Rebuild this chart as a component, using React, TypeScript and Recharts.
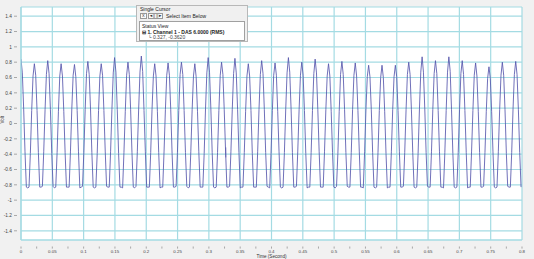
import React from "react";
import { LineChart, Line, XAxis, YAxis, CartesianGrid, ReferenceLine } from "recharts";

// Sampled waveform (Volt), one row per cycle, constant sample interval
const TIME_STEP = 0.002135;
const VOLTAGE: number[] = [
  0.84, 0.66, 0.19, -0.37, -0.83, -0.84, -0.83, -0.39, 0.17, 0.62,
  0.78, 0.63, 0.17, -0.38, -0.83, -0.83, -0.82, -0.37, 0.18, 0.64,
  0.82, 0.65, 0.18, -0.39, -0.82, -0.84, -0.83, -0.38, 0.16, 0.62,
  0.78, 0.62, 0.16, -0.38, -0.83, -0.83, -0.83, -0.36, 0.19, 0.63,
  0.77, 0.61, 0.17, -0.37, -0.84, -0.83, -0.82, -0.38, 0.18, 0.65,
  0.81, 0.64, 0.19, -0.38, -0.83, -0.84, -0.83, -0.39, 0.17, 0.62,
  0.78, 0.63, 0.17, -0.36, -0.82, -0.83, -0.83, -0.37, 0.18, 0.66,
  0.86, 0.67, 0.18, -0.39, -0.83, -0.83, -0.84, -0.38, 0.16, 0.63,
  0.80, 0.64, 0.18, -0.38, -0.83, -0.84, -0.82, -0.37, 0.19, 0.67,
  0.88, 0.68, 0.17, -0.37, -0.83, -0.83, -0.83, -0.38, 0.18, 0.62,
  0.78, 0.62, 0.16, -0.38, -0.84, -0.83, -0.83, -0.36, 0.18, 0.63,
  0.79, 0.63, 0.18, -0.39, -0.83, -0.83, -0.82, -0.38, 0.17, 0.64,
  0.80, 0.64, 0.17, -0.38, -0.82, -0.84, -0.83, -0.37, 0.18, 0.62,
  0.78, 0.61, 0.16, -0.37, -0.83, -0.83, -0.83, -0.39, 0.19, 0.66,
  0.86, 0.67, 0.19, -0.38, -0.83, -0.84, -0.83, -0.38, 0.17, 0.63,
  0.80, 0.64, 0.18, -0.36, -0.83, -0.83, -0.82, -0.37, 0.18, 0.65,
  0.85, 0.66, 0.18, -0.38, -0.84, -0.83, -0.83, -0.38, 0.16, 0.62,
  0.78, 0.62, 0.17, -0.39, -0.83, -0.83, -0.83, -0.37, 0.18, 0.64,
  0.82, 0.65, 0.18, -0.38, -0.82, -0.83, -0.84, -0.39, 0.17, 0.63,
  0.79, 0.63, 0.16, -0.37, -0.83, -0.84, -0.83, -0.38, 0.19, 0.66,
  0.86, 0.67, 0.19, -0.38, -0.83, -0.83, -0.82, -0.36, 0.18, 0.63,
  0.80, 0.63, 0.17, -0.39, -0.84, -0.83, -0.83, -0.38, 0.17, 0.65,
  0.84, 0.66, 0.18, -0.37, -0.83, -0.83, -0.83, -0.37, 0.18, 0.62,
  0.78, 0.62, 0.16, -0.38, -0.83, -0.84, -0.82, -0.39, 0.16, 0.64,
  0.81, 0.64, 0.18, -0.38, -0.82, -0.83, -0.83, -0.38, 0.18, 0.63,
  0.79, 0.62, 0.17, -0.36, -0.83, -0.83, -0.84, -0.37, 0.19, 0.61,
  0.76, 0.61, 0.18, -0.38, -0.83, -0.84, -0.83, -0.38, 0.17, 0.60,
  0.76, 0.60, 0.16, -0.39, -0.84, -0.83, -0.83, -0.37, 0.18, 0.61,
  0.76, 0.61, 0.17, -0.37, -0.83, -0.83, -0.82, -0.38, 0.18, 0.64,
  0.80, 0.64, 0.18, -0.38, -0.83, -0.84, -0.83, -0.39, 0.19, 0.67,
  0.87, 0.67, 0.19, -0.38, -0.82, -0.83, -0.83, -0.37, 0.18, 0.65,
  0.82, 0.65, 0.17, -0.37, -0.83, -0.83, -0.84, -0.38, 0.17, 0.67,
  0.87, 0.68, 0.18, -0.39, -0.83, -0.84, -0.83, -0.38, 0.18, 0.65,
  0.82, 0.64, 0.17, -0.38, -0.84, -0.83, -0.83, -0.36, 0.17, 0.63,
  0.79, 0.62, 0.16, -0.38, -0.83, -0.83, -0.82, -0.38, 0.16, 0.59,
  0.74, 0.59, 0.16, -0.37, -0.83, -0.84, -0.83, -0.37, 0.18, 0.63,
  0.80, 0.63, 0.18, -0.39, -0.82, -0.83, -0.83, -0.38, 0.19, 0.64,
  0.81, 0.64, 0.18, -0.38, -0.83,
];

const X_TICKS = [0, 0.05, 0.1, 0.15, 0.2, 0.25, 0.3, 0.35, 0.4, 0.45, 0.5, 0.55, 0.6, 0.65, 0.7, 0.75, 0.8];
const X_MINOR_TICKS = [0.025, 0.075, 0.125, 0.175, 0.225, 0.275, 0.325, 0.375, 0.425, 0.475, 0.525, 0.575, 0.625, 0.675, 0.725, 0.775];
const Y_TICKS = [-1.4, -1.2, -1, -0.8, -0.6, -0.4, -0.2, 0, 0.2, 0.4, 0.6, 0.8, 1, 1.2, 1.4];

const CURSOR_TIME = 0.327;
const CURSOR_VALUE = -0.362;

const data = VOLTAGE.map((v, i) => ({ t: i * TIME_STEP, v }));
const ALL_X_TICKS = [...X_TICKS, ...X_MINOR_TICKS].sort((a, b) => a - b);

const FONT = "'Liberation Sans', Arial, sans-serif";
const GRID = "#a4dbe3";

const XTick = (props: any) => {
  const { x, y, payload } = props;
  const major = X_TICKS.includes(payload.value);
  return (
    <g>
      <line x1={x} x2={x} y1={y - 1.5} y2={y + 0.6} stroke="#777" strokeWidth={0.6} />
      {major && (
        <text x={x} y={y + 4.9} textAnchor="middle" fontSize={4.4} fill="#444" fontFamily={FONT}>
          {String(payload.value)}
        </text>
      )}
    </g>
  );
};

const YTick = (props: any) => {
  const { x, y, payload } = props;
  return (
    <g>
      <line x1={x + 1} x2={x + 4} y1={y} y2={y} stroke="#777" strokeWidth={0.6} />
      <text x={x - 1} y={y + 1.8} textAnchor="end" fontSize={4.8} fill="#444" fontFamily={FONT}>
        {String(payload.value)}
      </text>
    </g>
  );
};

const txt: React.CSSProperties = { position: "absolute", fontFamily: FONT, fontSize: 5, color: "#222", whiteSpace: "nowrap", lineHeight: "6px" };

export default function App() {
  return (
    <div style={{ position: "absolute", left: 0, top: 0, width: 534, height: 259, background: "#f1f1f1" }}>
      <LineChart width={534} height={259} data={data} margin={{ top: 7, right: 12, left: 0, bottom: 0 }}>
        <CartesianGrid vertical={false} stroke={GRID} strokeWidth={1.2} fill="#ffffff" />
        {X_TICKS.map((t) => (
          <ReferenceLine key={t} x={t} stroke={GRID} strokeWidth={1.2} />
        ))}
        <XAxis
          dataKey="t"
          type="number"
          domain={[0, 0.8]}
          ticks={ALL_X_TICKS}
          tick={<XTick />}
          tickLine={false}
          axisLine={{ stroke: GRID, strokeWidth: 1.2 }}
          height={19}
          interval={0}
          allowDataOverflow
          label={{ value: "Time (Second)", position: "insideBottom", offset: 1, fontSize: 4.6, fill: "#333", fontFamily: FONT }}
        />
        <YAxis
          type="number"
          domain={[-1.52, 1.52]}
          ticks={Y_TICKS}
          tick={<YTick />}
          tickLine={false}
          axisLine={{ stroke: GRID, strokeWidth: 1.2 }}
          width={21}
          interval={0}
          label={{ value: "Volt", angle: -90, position: "insideLeft", offset: 2, fontSize: 4.5, fill: "#333", fontFamily: FONT }}
        />
        <ReferenceLine
          segment={[{ x: CURSOR_TIME, y: CURSOR_VALUE + 0.05 }, { x: CURSOR_TIME, y: CURSOR_VALUE - 0.08 }]}
          stroke="#5a5ab0"
          strokeWidth={0.8}
        />
        <Line type="linear" dataKey="v" stroke="#5656ac" strokeWidth={0.85} dot={false} isAnimationActive={false} />
      </LineChart>
      {/* Cursor panel */}
      <div style={{ position: "absolute", left: 136, top: 5, width: 112, height: 37, background: "#f0f0f0", border: "1px solid #b8b8b8", boxSizing: "border-box" }}>
        <div style={{ ...txt, left: 3, top: 0 }}>Single Cursor</div>
        <div style={{ position: "absolute", left: 3, top: 7, width: 7, height: 6, border: "1px solid #999", background: "#fafafa", boxSizing: "border-box" }} />
        <div style={{ ...txt, left: 5, top: 7, fontSize: 4 }}>X</div>
        <div style={{ position: "absolute", left: 11, top: 7, width: 15, height: 6, border: "1px solid #999", background: "#fafafa", boxSizing: "border-box" }} />
        <div style={{ ...txt, left: 12, top: 7, fontSize: 4 }}>◄|| ||►</div>
        <div style={{ ...txt, left: 29, top: 7 }}>Select Item Below</div>
        <div style={{ position: "absolute", left: 2, top: 15, width: 106, height: 20, background: "#ffffff", border: "1px solid #a0a0a0", boxSizing: "border-box" }}>
          <div style={{ ...txt, left: 2, top: 1 }}>Status View</div>
          <div style={{ ...txt, left: 2, top: 7, fontWeight: "bold" }}>⊟ 1. Channel 1 - DAS 6.0000 (RMS)</div>
          <div style={{ ...txt, left: 8, top: 12, color: "#444" }}>└ 0.327, -0.3620</div>
        </div>
      </div>
    </div>
  );
}
